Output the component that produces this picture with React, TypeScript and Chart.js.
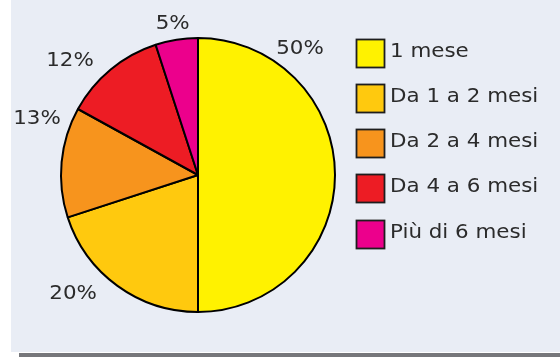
import React, { useEffect, useRef } from "react";
import { Chart, registerables } from "chart.js";

Chart.register(...registerables);

// ---- data ----
const categories = ["1 mese", "Da 1 a 2 mesi", "Da 2 a 4 mesi", "Da 4 a 6 mesi", "Più di 6 mesi"];
const values = [50, 20, 13, 12, 5];
const sliceColors = ["#FFF200", "#FFC90E", "#F7941D", "#ED1C24", "#EC008C"];

// ---- label placement (style): angle clockwise from top, gap beyond the rim ----
const labelAngles = [39, 226.4, 289.1, 311.7, 350.5];
const labelGaps = [25, 35.5, 33.4, 34.4, 16.2];

const TEXT_COLOR = "#2b2b2b";
const FONT = '20px "DejaVu Sans", Verdana, sans-serif';
const STRETCH = 1.07;

function drawText(ctx: CanvasRenderingContext2D, t: string, x: number, y: number) {
  ctx.save();
  ctx.translate(x, y);
  ctx.scale(STRETCH, 1);
  ctx.fillText(t, 0, 0);
  ctx.restore();
}

const overlayPlugin = {
  id: "overlay",
  afterDraw(chart: any) {
    const ctx: CanvasRenderingContext2D = chart.ctx;
    const meta = chart.getDatasetMeta(0);
    const arc0: any = meta.data[0];
    const cx = arc0.x;
    const cy = arc0.y;
    const r = arc0.outerRadius;
    const data: number[] = chart.data.datasets[0].data;
    const total = data.reduce((a, b) => a + b, 0);
    ctx.save();
    ctx.fillStyle = TEXT_COLOR;
    ctx.font = FONT;
    ctx.textAlign = "center";
    ctx.textBaseline = "middle";
    data.forEach((v, i) => {
      const a = (labelAngles[i] * Math.PI) / 180;
      const d = r + labelGaps[i];
      const x = cx + d * Math.sin(a);
      const y = cy - d * Math.cos(a);
      drawText(ctx, Math.round((v / total) * 100) + "%", x, y);
    });
    // legend
    const labels: string[] = chart.data.labels;
    const bg: string[] = chart.data.datasets[0].backgroundColor;
    const left = 356.5;
    const top0 = 38.5;
    const step = 45.3;
    const box = 28;
    ctx.textAlign = "left";
    ctx.textBaseline = "alphabetic";
    labels.forEach((lab, i) => {
      const top = Math.round(top0 + i * step) + 0.5;
      ctx.fillStyle = bg[i];
      ctx.fillRect(left, top, box, box);
      ctx.lineWidth = 1.8;
      ctx.strokeStyle = "#1e1e1e";
      ctx.strokeRect(left, top, box, box);
      ctx.fillStyle = TEXT_COLOR;
      ctx.save();
      ctx.translate(390, top + 17.5);
      ctx.scale(STRETCH, 1);
      ctx.fillText(lab, 0, 0);
      ctx.restore();
    });
    ctx.restore();
  },
};

export default function App() {
  const ref = useRef<HTMLCanvasElement | null>(null);
  useEffect(() => {
    if (!ref.current) return;
    const chart = new Chart(ref.current, {
      type: "pie",
      data: {
        labels: categories,
        datasets: [
          {
            data: values,
            backgroundColor: sliceColors,
            borderColor: "#000000",
            borderWidth: 2,
            radius: 137,
          } as any,
        ],
      },
      options: {
        responsive: false,
        animation: false,
        devicePixelRatio: 1,
        events: [],
        layout: { padding: { left: 50, right: 214, top: 30, bottom: 37 } },
        plugins: {
          legend: { display: false },
          tooltip: { enabled: false },
        },
      },
      plugins: [overlayPlugin],
    });
    return () => chart.destroy();
  }, []);

  return (
    <div style={{ position: "fixed", left: 0, top: 0, width: 560, height: 357, background: "#ffffff", overflow: "hidden" }}>
      <div style={{ position: "absolute", left: 11, top: 0, width: 549, height: 352, background: "#e9edf5" }} />
      <div style={{ position: "absolute", left: 19, top: 353, width: 541, height: 4, background: "#76777b" }} />
      <canvas ref={ref} width={560} height={357} style={{ position: "absolute", left: 0, top: 0, width: 560, height: 357 }} />
    </div>
  );
}
